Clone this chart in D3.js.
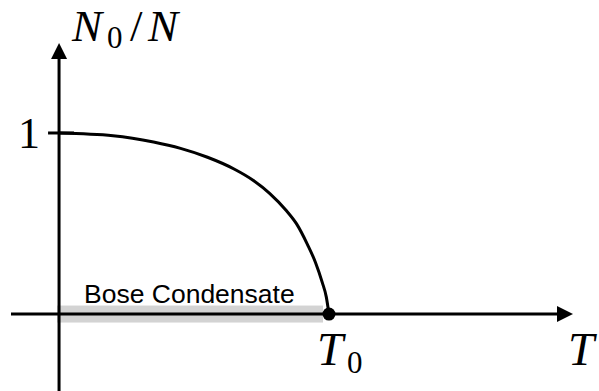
<!DOCTYPE html>
<html>
<head>
<meta charset="utf-8">
<script src="https://cdn.jsdelivr.net/npm/d3@7"></script>
<style>
  html, body { margin: 0; padding: 0; background: #fff; }
  svg { display: block; }
</style>
</head>
<body>
<svg id="chart" width="599" height="391"></svg>
<script>
// Condensate fraction N0/N versus temperature T/T0
const tRatio = [0, 0.20, 0.35, 0.45, 0.55, 0.65, 0.72, 0.78, 0.84, 0.88, 0.92, 0.95, 0.975, 0.99, 1.0];
const fraction = [1.0, 0.985, 0.950, 0.915, 0.866, 0.800, 0.738, 0.667, 0.575, 0.498, 0.385, 0.285, 0.175, 0.095, 0.0];
const yTickValues = [1];
const yTickLabels = ["1"];
const condensateRange = [0, 1];   // T from 0 up to T0
const criticalPoint = [1, 0];     // (T0, 0)

const svg = d3.select("#chart");

// Axes span beyond the data in both directions
const x = d3.scaleLinear().domain([-0.178, 1.904]).range([11, 573]);
const y = d3.scaleLinear().domain([-0.425, 1.497]).range([391, 43]);

const serif = "'Liberation Serif', 'Times New Roman', serif";
const sans = "'Liberation Sans', Arial, Helvetica, sans-serif";

// Grey band marking the condensate region
svg.append("rect")
  .attr("x", x(condensateRange[0]) - 2)
  .attr("y", y(0) - 8.5)
  .attr("width", x(condensateRange[1]) - 6 - (x(condensateRange[0]) - 2))
  .attr("height", 17)
  .attr("fill", "#d3d3d3");

// Horizontal axis with arrow
svg.append("line")
  .attr("x1", x.range()[0]).attr("x2", x.range()[1] - 10)
  .attr("y1", y(0)).attr("y2", y(0))
  .attr("stroke", "#000").attr("stroke-width", 3);
svg.append("path")
  .attr("d", `M${x.range()[1]},${y(0)} L${x.range()[1] - 16},${y(0) - 8} L${x.range()[1] - 16},${y(0) + 8} Z`)
  .attr("fill", "#000");

// Vertical axis with arrow
svg.append("line")
  .attr("x1", x(0)).attr("x2", x(0))
  .attr("y1", y.range()[0]).attr("y2", y.range()[1] + 10)
  .attr("stroke", "#000").attr("stroke-width", 3);
svg.append("path")
  .attr("d", `M${x(0)},${y.range()[1]} L${x(0) - 8},${y.range()[1] + 16} L${x(0) + 8},${y.range()[1] + 16} Z`)
  .attr("fill", "#000");

// Tick and label on the vertical axis
yTickValues.forEach((v, i) => {
  svg.append("line")
    .attr("x1", x(0) - 11).attr("x2", x(0) + 15)
    .attr("y1", y(v)).attr("y2", y(v))
    .attr("stroke", "#000").attr("stroke-width", 3);
  svg.append("text")
    .attr("x", x(0) - 19).attr("y", y(v) + 15)
    .attr("text-anchor", "end")
    .attr("font-family", serif).attr("font-size", 44)
    .text(yTickLabels[i]);
});

// Condensate fraction curve
const line = d3.line()
  .x((d, i) => x(tRatio[i]))
  .y(d => y(d))
  .curve(d3.curveMonotoneX);
svg.append("path")
  .datum(fraction)
  .attr("d", line)
  .attr("fill", "none")
  .attr("stroke", "#000")
  .attr("stroke-width", 3);

// Critical temperature point
svg.append("circle")
  .attr("cx", x(criticalPoint[0])).attr("cy", y(criticalPoint[1]))
  .attr("r", 6.5).attr("fill", "#000");

// Region label
svg.append("text")
  .attr("x", 84).attr("y", 303)
  .attr("font-family", sans).attr("font-size", 26.5)
  .attr("fill", "#000")
  .text("Bose Condensate");

// Axis title: N0/N
const g = svg.append("g").attr("font-family", serif).attr("fill", "#000");
g.append("text").attr("x", 72).attr("y", 41).attr("font-size", 45).attr("font-style", "italic").text("N");
g.append("text").attr("x", 107).attr("y", 48).attr("font-size", 31).text("0");
g.append("text").attr("x", 130).attr("y", 41).attr("font-size", 45).text("/");
g.append("text").attr("x", 148).attr("y", 41).attr("font-size", 45).attr("font-style", "italic").text("N");

// T0 and T labels on the horizontal axis
g.append("text").attr("x", 317).attr("y", 365).attr("font-size", 47).attr("font-style", "italic").text("T");
g.append("text").attr("x", 347).attr("y", 373).attr("font-size", 31).text("0");
g.append("text").attr("x", 568).attr("y", 365).attr("font-size", 47).attr("font-style", "italic").text("T");
</script>
</body>
</html>
